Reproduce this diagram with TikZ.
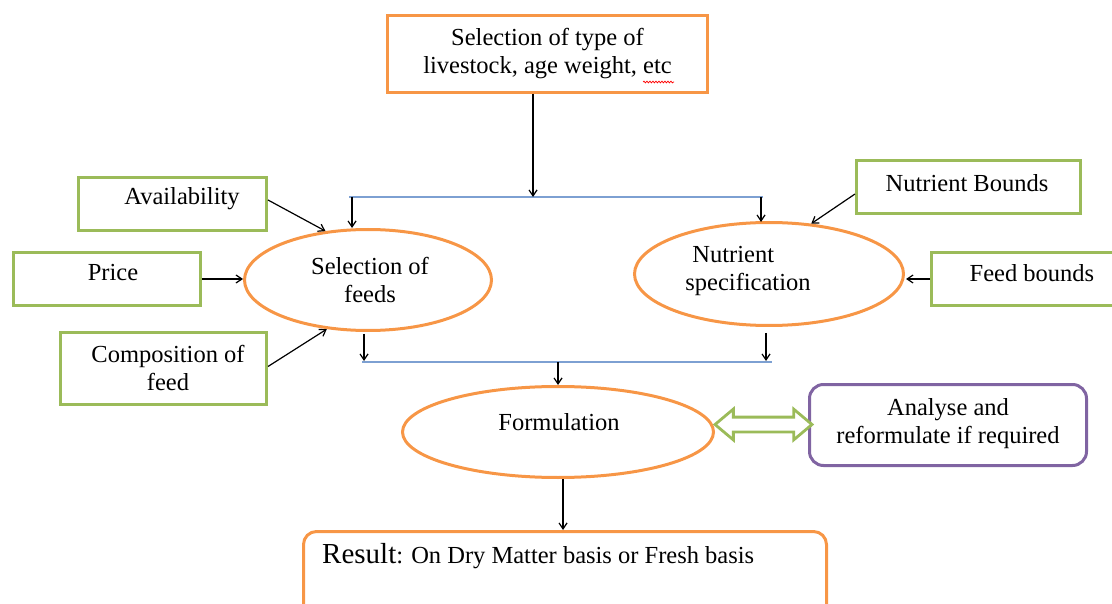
\documentclass[tikz,border=0pt]{standalone}
\usepackage{fontspec}
\setmainfont{Liberation Serif}
\usetikzlibrary{shapes.geometric,shapes.arrows,arrows.meta,calc,decorations.pathmorphing}
\definecolor{orangeC}{RGB}{247,150,70}
\definecolor{greenC}{RGB}{155,187,89}
\definecolor{purpleC}{RGB}{128,100,162}
\definecolor{blueC}{RGB}{125,160,210}
\tikzset{
  obox/.style={draw=orangeC, line width=3pt, inner sep=0pt},
  gbox/.style={draw=greenC, line width=3pt, inner sep=0pt},
  pbox/.style={draw=purpleC, line width=3pt, inner sep=0pt, rounded corners=14pt},
  oell/.style={ellipse, draw=orangeC, line width=3pt, inner sep=0pt},
  txt/.style={font=\fontsize{24.5}{28}\selectfont, align=center, inner sep=0pt},
  arr/.style={-{Straight Barb[length=6pt,width=8pt]}, line width=1.2pt, black},
  bline/.style={draw=blueC, line width=2pt},
  dbl/.style={double arrow, draw=greenC, fill=white, line width=2.8pt, inner xsep=0pt, inner ysep=6pt,
    minimum height=97pt, double arrow head extend=8pt, double arrow tip angle=80},
}
\begin{document}
\begin{tikzpicture}[x=1pt,y=-1pt]
\useasboundingbox (0,0) rectangle (1112,604);
\clip (0,0) rectangle (1112,604);
% top box
\node[obox, minimum width=320pt, minimum height=77pt] (top) at (547.5,54) {};
\node[txt] (toptxt) at (547.5,54) {Selection of type of\\livestock, age weight, etc};
\draw[red, line width=0.7pt, decorate, decoration={snake, amplitude=0.9pt, segment length=3pt}] (643,82) -- (674,82);
% left boxes
\node[gbox, minimum width=188pt, minimum height=53pt] (avail) at (172.5,204) {};
\node[txt] (availtxt) at (182,199) {Availability};
\node[gbox, minimum width=187pt, minimum height=53pt] (price) at (107,279) {};
\node[txt] (pricetxt) at (113,273) {Price};
\node[gbox, minimum width=206pt, minimum height=72pt] (comp) at (163.5,368.5) {};
\node[txt] (comptxt) at (168,368) {Composition of\\feed};
% right boxes
\node[gbox, minimum width=224pt, minimum height=53pt] (nb) at (968.5,187) {};
\node[txt] (nbtxt) at (967,183) {Nutrient Bounds};
\node[gbox, minimum width=186pt, minimum height=53pt] (fb) at (1024.5,279) {};
\node[txt] (fbtxt) at (1032,273) {Feed bounds};
% ellipses
\node[oell, minimum width=247pt, minimum height=101pt] (sel) at (368,280) {};
\node[txt] (seltxt) at (370,280) {Selection of\\feeds};
\node[oell, minimum width=269pt, minimum height=103pt] (nut) at (769,274) {};
\node[txt, align=left] (nuttxt) at (748,271) {\hspace*{7pt}Nutrient\\specification};
\node[oell, minimum width=311pt, minimum height=91pt] (form) at (558,432) {};
\node[txt] (formtxt) at (559,422) {Formulation};
% analyse box
\node[pbox, minimum width=277pt, minimum height=81pt] (ana) at (948,425) {};
\node[txt] (anatxt) at (948,424) {Analyse and\\reformulate if required};
% result box
\node[obox, rounded corners=13pt, minimum width=523pt, minimum height=110pt] (res) at (565,586.5) {};
\node[txt, anchor=base west] (restxt) at (322,563) {{\fontsize{29}{32}\selectfont Result}: On Dry Matter basis or Fresh basis};
% junction coordinates
\coordinate (tj) at (533,197);
\coordinate (bt1) at (349,197);
\coordinate (bt2) at (763,197);
\coordinate (tl) at (352,197);
\coordinate (tr) at (761,197);
\coordinate (bb1) at (362,362);
\coordinate (bb2) at (772,362);
\coordinate (bl) at (364,361);
\coordinate (br) at (766,361);
\coordinate (bm) at (558,362);
\coordinate (rj) at (563,0);
% blue lines
\draw[bline] (bt1) -- (bt2);
\draw[bline] (bb1) -- (bb2);
% arrows
\draw[arr] (top.south -| tj) -- (tj);
\draw[arr] (tl) -- (tl |- sel.north);
\draw[arr] (tr) -- ([yshift=-1pt]tr |- nut.north);
\draw[arr] ([yshift=4pt]avail.east) -- (sel.131);
\draw[arr] (price.east) -- (price.east -| sel.west);
\draw[arr] ([yshift=2pt]comp.east) -- (sel.230);
\draw[arr] ([yshift=-7pt]nb.west) -- (nut.50);
\draw[arr] (fb.west) -- ([xshift=1pt]fb.west -| nut.east);
\draw[arr] ([yshift=-2pt]sel.south -| bl) -- (bl);
\draw[arr] ([yshift=-6pt]nut.south -| br) -- (br);
\draw[arr] (bm) -- (form.north);
\draw[arr] (form.south -| rj) -- (res.north -| rj);
% double arrow between formulation and analyse
\node[dbl] (dblarrow) at ($(form.east)!0.5!(ana.west)+(2,-4)$) {};
\end{tikzpicture}
\end{document}
